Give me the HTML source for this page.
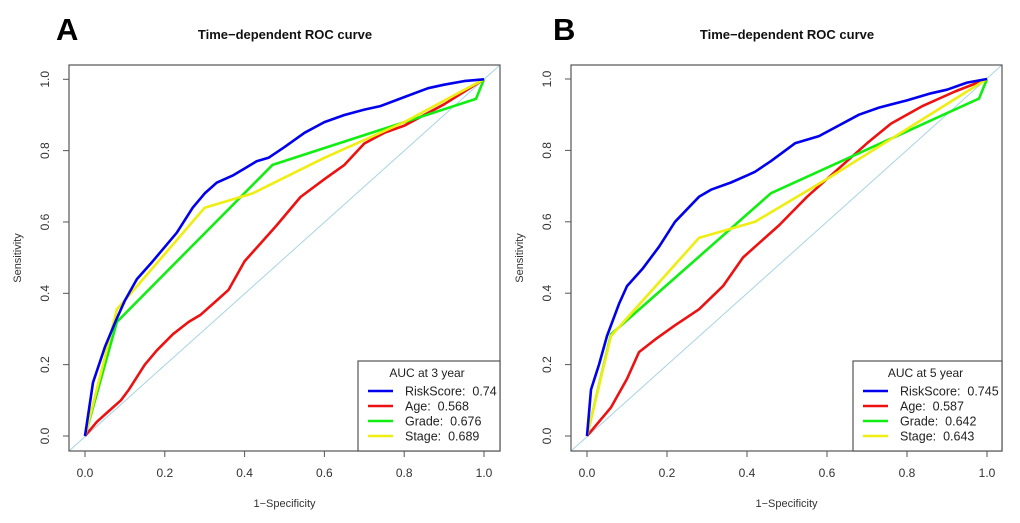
<!DOCTYPE html>
<html><head><meta charset="utf-8">
<style>
html,body{margin:0;padding:0;background:#fff;}
svg{display:block;font-family:"Liberation Sans",Arial,sans-serif;}
</style></head>
<body>
<svg id="fig" width="1020" height="523" viewBox="0 0 1020 523"></svg>
<script>
const tickVals=[0,0.2,0.4,0.6,0.8,1.0];
const tickLabels=["0.0","0.2","0.4","0.6","0.8","1.0"];
const seriesNames=["RiskScore","Age","Grade","Stage"];
const seriesColors=["#0000ee","#ee1111","#11ee11","#eeee11"];
// Panel A (3 year)
const aRiskX=[0,0.02,0.05,0.08,0.1,0.13,0.17,0.2,0.23,0.27,0.3,0.33,0.37,0.4,0.43,0.46,0.5,0.55,0.6,0.65,0.7,0.74,0.8,0.86,0.9,0.95,1];
const aRiskY=[0,0.15,0.25,0.33,0.38,0.44,0.49,0.53,0.57,0.64,0.68,0.71,0.73,0.75,0.77,0.78,0.81,0.85,0.88,0.90,0.915,0.925,0.95,0.975,0.985,0.995,1];
const aAgeX=[0,0.03,0.06,0.09,0.11,0.15,0.18,0.22,0.26,0.29,0.33,0.36,0.4,0.44,0.48,0.54,0.6,0.65,0.7,0.75,0.8,0.9,1];
const aAgeY=[0,0.04,0.07,0.1,0.13,0.2,0.24,0.285,0.32,0.34,0.38,0.41,0.49,0.54,0.59,0.67,0.72,0.76,0.82,0.85,0.87,0.93,1];
const aGradeX=[0,0.08,0.47,0.98,1];
const aGradeY=[0,0.32,0.76,0.945,1];
const aStageX=[0,0.08,0.3,0.42,0.6,0.8,1];
const aStageY=[0,0.355,0.64,0.68,0.78,0.88,1];
const aAUC=["0.74","0.568","0.676","0.689"];
// Panel B (5 year)
const bRiskX=[0,0.01,0.03,0.05,0.08,0.1,0.14,0.18,0.22,0.28,0.31,0.36,0.4,0.42,0.46,0.52,0.58,0.68,0.73,0.8,0.86,0.9,0.95,1];
const bRiskY=[0,0.13,0.2,0.28,0.37,0.42,0.47,0.53,0.6,0.67,0.69,0.71,0.73,0.74,0.77,0.82,0.84,0.9,0.92,0.94,0.96,0.97,0.99,1];
const bAgeX=[0,0.06,0.1,0.13,0.17,0.22,0.28,0.34,0.39,0.43,0.48,0.55,0.62,0.7,0.76,0.84,0.92,1];
const bAgeY=[0,0.08,0.16,0.235,0.27,0.31,0.355,0.42,0.5,0.54,0.59,0.67,0.74,0.82,0.875,0.925,0.965,1];
const bGradeX=[0,0.06,0.46,0.98,1];
const bGradeY=[0,0.285,0.68,0.945,1];
const bStageX=[0,0.06,0.28,0.42,0.6,0.8,1];
const bStageY=[0,0.28,0.555,0.6,0.72,0.86,1];
const bAUC=["0.745","0.587","0.642","0.643"];

const NS="http://www.w3.org/2000/svg";
const svg=document.getElementById('fig');
function mk(tag,attrs,parent,text){const e=document.createElementNS(NS,tag);for(const k in attrs)e.setAttribute(k,attrs[k]);if(text!==undefined)e.textContent=text;(parent||svg).appendChild(e);return e;}

function panel(cfg){
  const g=mk('g',{});
  
  
  const sx=v=>cfg.x0+(cfg.x1-cfg.x0)*v;
  const sy=v=>cfg.y0+(cfg.y1-cfg.y0)*v;
  const L=mk('text',{x:cfg.letterX,y:40,'font-size':31,'font-weight':'bold',fill:'#000'},g,cfg.letter);
  
  
  const T=mk('text',{x:cfg.titleX,y:39,'font-size':13,'font-weight':'bold','text-anchor':'middle',fill:'#111'},g,'Time\u2212dependent ROC curve');
  
  
  const d=mk('line',{x1:cfg.bl,y1:cfg.bb,x2:cfg.br,y2:cfg.bt,stroke:'#a8d4e6','stroke-width':1},g);
  
  
  const xs=[cfg.rx,cfg.ax,cfg.gx,cfg.stx], ys=[cfg.ry,cfg.ay,cfg.gy,cfg.sty];
  [1,2,3,0].forEach(i=>{
    const pts=xs[i].map((v,j)=>sx(v).toFixed(1)+','+sy(ys[i][j]).toFixed(1)).join(' ');
    const p=mk('polyline',{points:pts,fill:'none',stroke:seriesColors[i],'stroke-width':2.6,'stroke-linejoin':'round'},g);
    
    
  });
  const b=mk('rect',{x:cfg.bl,y:cfg.bt,width:cfg.br-cfg.bl,height:cfg.bb-cfg.bt,fill:'none',stroke:'#555','stroke-width':1.2},g);
  
  
  tickVals.forEach((v,i)=>{
    mk('line',{x1:sx(v),y1:cfg.bb,x2:sx(v),y2:cfg.bb+6,stroke:'#555'},g);
    const tx=mk('text',{x:sx(v),y:cfg.bb+26,'font-size':12,'text-anchor':'middle',fill:'#333'},g,tickLabels[i]);
    
    
    mk('line',{x1:cfg.bl,y1:sy(v),x2:cfg.bl-6,y2:sy(v),stroke:'#555'},g);
    const ty=mk('text',{x:0,y:0,'font-size':12,'text-anchor':'middle',fill:'#333',transform:`translate(${cfg.bl-20},${sy(v)}) rotate(-90)`},g,tickLabels[i]);
    
    
  });
  const xt=mk('text',{x:(cfg.bl+cfg.br)/2,y:507,'font-size':11,'text-anchor':'middle',fill:'#333'},g,'1\u2212Specificity');
  
  
  const yt=mk('text',{x:0,y:0,'font-size':11,'text-anchor':'middle',fill:'#333',transform:`translate(${cfg.bl-48},${(cfg.bt+cfg.bb)/2}) rotate(-90)`},g,'Sensitivity');
  
  
  const lg=mk('g',{},g);
  
  
  mk('rect',{x:cfg.lx,y:361,width:cfg.br-cfg.lx,height:cfg.bb-361,fill:'#fff',stroke:'#555','stroke-width':1.2},lg);
  mk('text',{x:cfg.lx+(cfg.br-cfg.lx)/2-2,y:377,'font-size':12,'text-anchor':'middle',fill:'#222'},lg,cfg.legendTitle);
  seriesNames.forEach((n,i)=>{
    const yy=391+i*15;
    const e=mk('g',{},lg);
    
    
    mk('line',{x1:cfg.lx+10,y1:yy,x2:cfg.lx+35,y2:yy,stroke:seriesColors[i],'stroke-width':2.6},e);
    mk('text',{x:cfg.lx+47,y:yy+4.5,'font-size':12.5,fill:'#222'},e,n+':\u00a0\u00a0'+cfg.auc[i]);
  });
}
panel({letter:'A',letterX:56,titleX:285,x0:85,x1:484,y0:436,y1:79.3,bl:69,br:500,bt:65,bb:451,lx:358,
  rx:aRiskX,ry:aRiskY,ax:aAgeX,ay:aAgeY,gx:aGradeX,gy:aGradeY,stx:aStageX,sty:aStageY,auc:aAUC,legendTitle:'AUC at 3 year'});
panel({letter:'B',letterX:553,titleX:787,x0:587,x1:987,y0:436,y1:79,bl:571,br:1002,bt:65,bb:451,lx:853,
  rx:bRiskX,ry:bRiskY,ax:bAgeX,ay:bAgeY,gx:bGradeX,gy:bGradeY,stx:bStageX,sty:bStageY,auc:bAUC,legendTitle:'AUC at 5 year'});
</script>
</body></html>
